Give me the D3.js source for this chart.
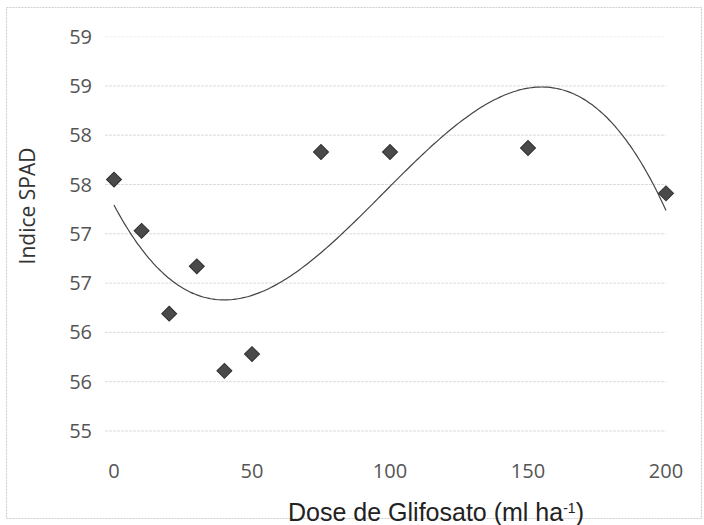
<!DOCTYPE html>
<html>
<head>
<meta charset="utf-8">
<script src="https://cdn.jsdelivr.net/npm/d3@7"></script>
<style>
  body { margin: 0; background: #fff; }
  #chart { width: 704px; height: 525px; }
  .tick-label { font-family: "Open Sans", sans-serif; font-size: 20px; fill: #555; }
  .axisLabel { font-family: "Open Sans", sans-serif; font-size: 21px; fill: #333; }
  .xTitle { font-family: "Liberation Sans", Arial, sans-serif; font-size: 25px; fill: #222; }
</style>
</head>
<body>
<div id="chart"></div>
<script>
// dose (ml/ha) and SPAD index
const doses = [0, 10, 20, 30, 40, 50, 75, 100, 150, 200];
const spad = [57.55, 57.03, 56.19, 56.67, 55.61, 55.78, 57.83, 57.83, 57.87, 57.41];

const xTicks = [0, 50, 100, 150, 200];
const yTicks = [55, 55.5, 56, 56.5, 57, 57.5, 58, 58.5, 59];

const data = doses.map(function(d, i) { return {dose: d, spad: spad[i]}; });

const width = 704;
const height = 525;

const svg = d3.select("#chart")
    .append("svg")
    .attr("width", width)
    .attr("height", height);

// outer frame (chart area border)
svg.append("rect")
    .attr("x", 6.5)
    .attr("y", 7.5)
    .attr("width", 695)
    .attr("height", 511)
    .attr("fill", "none")
    .attr("stroke", "#cfcfcf")
    .attr("stroke-width", 1.2)
    .attr("stroke-dasharray", "2,1");

/* SCALES */
const xScale = d3.scaleLinear()
    .domain([0, 200])
    .range([114, 666]);

const yScale = d3.scaleLinear()
    .domain([55, 59])
    .range([431, 36.6]);

/* gridlines */
svg.selectAll(".grid")
    .data(yTicks)
    .enter()
    .append("line")
    .attr("class", "grid")
    .attr("x1", 105)
    .attr("x2", 666)
    .attr("y1", function(d) { return yScale(d); })
    .attr("y2", function(d) { return yScale(d); })
    .attr("stroke", function(d) { return d === 59 ? "#f0f0f0" : "#dcdcdc"; })
    .attr("stroke-width", 1)
    .attr("stroke-dasharray", "3,1");

/* tick labels */
svg.selectAll(".ylab")
    .data(yTicks)
    .enter()
    .append("text")
    .attr("class", "tick-label")
    .attr("x", 92)
    .attr("y", function(d) { return yScale(d) + 7; })
    .attr("text-anchor", "end")
    .text(function(d) { return d3.format(".0f")(d); });

svg.selectAll(".xlab")
    .data(xTicks)
    .enter()
    .append("text")
    .attr("class", "tick-label")
    .attr("x", function(d) { return xScale(d); })
    .attr("y", 478)
    .attr("text-anchor", "middle")
    .text(function(d) { return d; });

/* polynomial trendline (order 3, least squares) */
function polyFit(xs, ys, order) {
    const n = order + 1;
    const A = [];
    for (let r = 0; r < n; r++) {
        A.push(new Array(n + 1).fill(0));
    }
    xs.forEach(function(xv, i) {
        const x = xv / 100;
        for (let r = 0; r < n; r++) {
            for (let c = 0; c < n; c++) A[r][c] += Math.pow(x, r + c);
            A[r][n] += ys[i] * Math.pow(x, r);
        }
    });
    for (let p = 0; p < n; p++) {
        let best = p;
        for (let r = p + 1; r < n; r++) if (Math.abs(A[r][p]) > Math.abs(A[best][p])) best = r;
        const tmp = A[p]; A[p] = A[best]; A[best] = tmp;
        for (let r = 0; r < n; r++) {
            if (r === p) continue;
            const f = A[r][p] / A[p][p];
            for (let c = p; c <= n; c++) A[r][c] -= f * A[p][c];
        }
    }
    return A.map(function(row, i) { return row[n] / row[i]; });
}

const coef = polyFit(doses, spad, 3);
const trend = d3.range(0, 200.5, 1).map(function(x) {
    const t = x / 100;
    return {dose: x, spad: coef[0] + coef[1] * t + coef[2] * t * t + coef[3] * t * t * t};
});

const line = d3.line()
    .x(function(d) { return xScale(d.dose); })
    .y(function(d) { return yScale(d.spad); })
    .curve(d3.curveMonotoneX);

svg.append("path")
    .datum(trend)
    .attr("d", line)
    .attr("fill", "none")
    .attr("stroke", "#444")
    .attr("stroke-width", 1.2);

/* points */
svg.selectAll(".pt")
    .data(data)
    .enter()
    .append("path")
    .attr("class", "pt")
    .attr("d", d3.symbol(d3.symbolSquare, 112))
    .attr("transform", function(d) {
        return `translate(${xScale(d.dose)},${yScale(d.spad)}) rotate(45)`;
    })
    .attr("fill", "#4a4a4a")
    .attr("stroke", "#2e2e2e")
    .attr("stroke-width", 1);

/* AXES LABELS */
svg.append("text")
    .attr("class", "axisLabel")
    .attr("transform", "translate(35,206) rotate(-90)")
    .attr("text-anchor", "middle")
    .text("Indice SPAD");

const xt = svg.append("text")
    .attr("class", "xTitle")
    .attr("x", 436)
    .attr("y", 521)
    .attr("text-anchor", "middle");
xt.append("tspan").text("Dose de Glifosato (ml ha");
xt.append("tspan").attr("font-size", "14px").attr("dy", "-8").text("-1");
xt.append("tspan").attr("dy", "8").text(")");
</script>
</body>
</html>
